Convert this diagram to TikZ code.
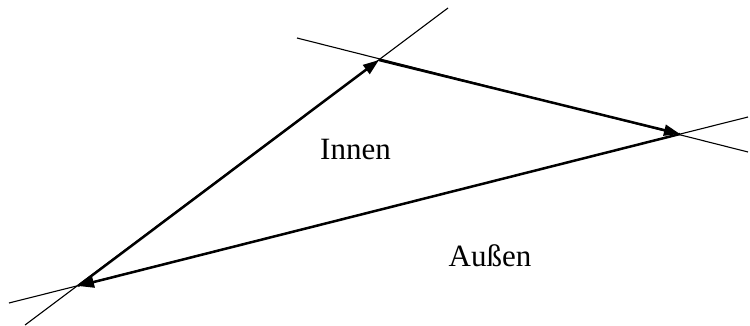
\documentclass[tikz,border=0pt]{standalone}
\usepackage{fontspec}
\setmainfont{Liberation Serif}
\usetikzlibrary{arrows.meta}
\begin{document}
\begin{tikzpicture}[x=0.5pt,y=-0.5pt,
  thinline/.style={line width=0.55pt},
  edge/.style={line width=1.25pt,-{Triangle[length=8pt,width=5.5pt]},shorten >=0pt},
  lbl/.style={font=\fontsize{15.5}{18}\selectfont,anchor=base,inner sep=0pt}]
\useasboundingbox (0,0) rectangle (750,326);
\coordinate (A) at (78,286);
\coordinate (B) at (379,60);
\coordinate (C) at (680,134);
\coordinate (ab1) at (25,325);
\coordinate (ab2) at (448,8);
\coordinate (bc1) at (297,38);
\coordinate (bc2) at (748,152);
\coordinate (ca1) at (9,303);
\coordinate (ca2) at (748,117);
\draw[thinline] (ab1) -- (ab2);
\draw[thinline] (bc1) -- (bc2);
\draw[thinline] (ca1) -- (ca2);
\draw[edge] (A) -- (B);
\draw[edge] (B) -- (C);
\draw[edge] (C) -- (A);
\node[lbl] (innen) at (355.5,160) {Innen};
\node[lbl] (aussen) at (490,266) {Außen};
\end{tikzpicture}
\end{document}
